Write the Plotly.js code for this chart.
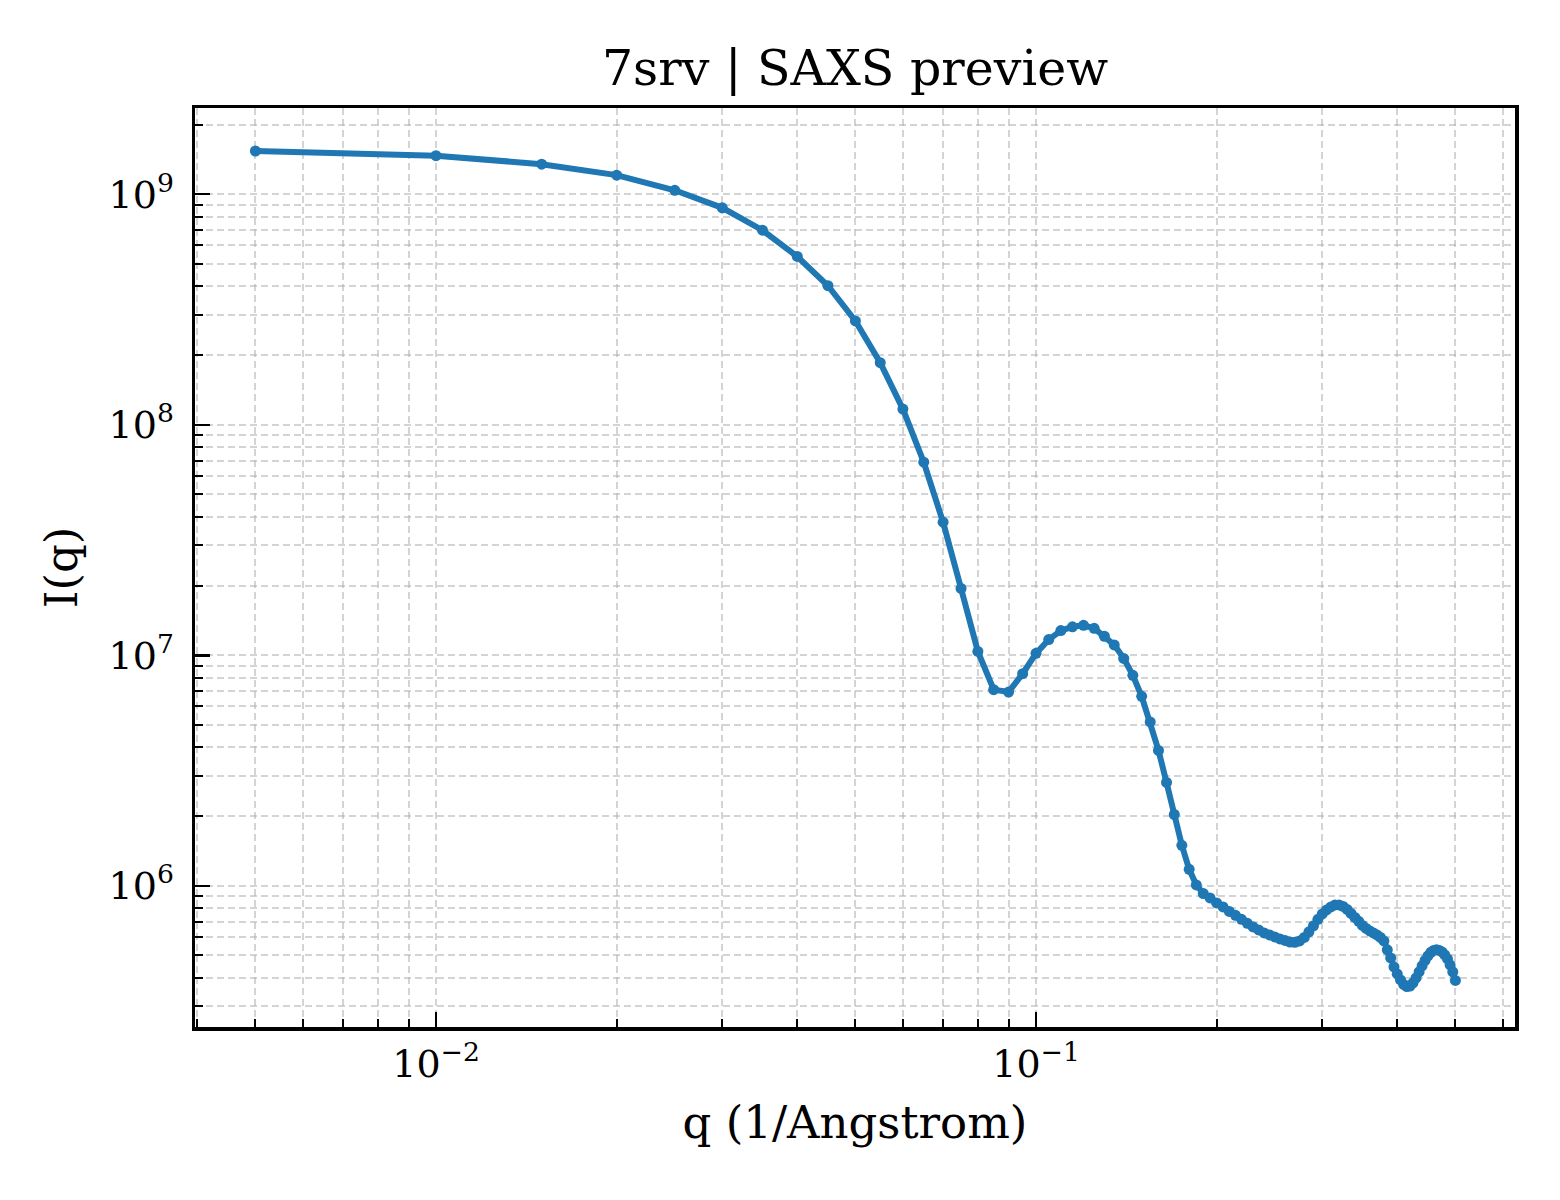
<!DOCTYPE html>
<html>
<head>
<meta charset="utf-8">
<script src="https://cdn.plot.ly/plotly-3.0.1.min.js"></script>
<style>
  html, body { margin: 0; padding: 0; background: #fff; }
  #chart { width: 1560px; height: 1200px; }
</style>
</head>
<body>
<div id="chart"></div>
<script>
const qValues = [
  0.005, 0.010, 0.015, 0.020, 0.025, 0.030, 0.035, 0.040, 0.045, 0.050,
  0.055, 0.060, 0.065, 0.070, 0.075, 0.080, 0.085, 0.090, 0.095, 0.100,
  0.105, 0.110, 0.115, 0.120, 0.125, 0.130, 0.135, 0.140, 0.145, 0.150,
  0.155, 0.160, 0.165, 0.170, 0.175, 0.180, 0.185, 0.190, 0.195, 0.200,
  0.205, 0.210, 0.215, 0.220, 0.225, 0.230, 0.235, 0.240, 0.245, 0.250,
  0.255, 0.260, 0.265, 0.270, 0.275, 0.280, 0.285, 0.290, 0.295, 0.300,
  0.305, 0.310, 0.315, 0.320, 0.325, 0.330, 0.335, 0.340, 0.345, 0.350,
  0.355, 0.360, 0.365, 0.370, 0.375, 0.380, 0.385, 0.390, 0.395, 0.400,
  0.405, 0.410, 0.415, 0.420, 0.425, 0.430, 0.435, 0.440, 0.445, 0.450,
  0.455, 0.460, 0.465, 0.470, 0.475, 0.480, 0.485, 0.490, 0.495, 0.500
];

const intensity = [
  1.54e9, 1.47e9, 1.35e9, 1.21e9, 1.04e9, 8.73e8, 6.98e8, 5.37e8, 4.01e8, 2.82e8,
  1.86e8, 1.17e8, 6.88e7, 3.78e7, 1.95e7, 1.04e7, 7.10e6, 6.93e6, 8.33e6, 1.02e7,
  1.17e7, 1.28e7, 1.33e7, 1.35e7, 1.31e7, 1.21e7, 1.11e7, 9.70e6, 8.19e6, 6.64e6,
  5.14e6, 3.87e6, 2.81e6, 2.04e6, 1.50e6, 1.18e6, 1.01e6, 9.27e5, 8.87e5, 8.44e5,
  8.11e5, 7.75e5, 7.45e5, 7.16e5, 6.88e5, 6.64e5, 6.44e5, 6.25e5, 6.13e5, 6.01e5,
  5.89e5, 5.80e5, 5.71e5, 5.69e5, 5.77e5, 5.98e5, 6.32e5, 6.71e5, 7.16e5, 7.56e5,
  7.87e5, 8.11e5, 8.27e5, 8.27e5, 8.15e5, 7.91e5, 7.60e5, 7.30e5, 7.02e5, 6.74e5,
  6.54e5, 6.38e5, 6.25e5, 6.13e5, 5.98e5, 5.77e5, 5.28e5, 4.87e5, 4.45e5, 4.15e5,
  3.91e5, 3.74e5, 3.66e5, 3.68e5, 3.80e5, 3.99e5, 4.24e5, 4.50e5, 4.75e5, 4.97e5,
  5.15e5, 5.25e5, 5.28e5, 5.25e5, 5.17e5, 5.02e5, 4.82e5, 4.54e5, 4.24e5, 3.89e5
];

const xTickVals = [0.01, 0.1];
const xTickText = ['10<sup>\u22122</sup>', '10<sup>\u22121</sup>'];
const yTickVals = [1e6, 1e7, 1e8, 1e9];
const yTickText = ['10<sup>6</sup>', '10<sup>7</sup>', '10<sup>8</sup>', '10<sup>9</sup>'];

// minor ticks at 2..9 of every decade
function minorTicks(fromExp, toExp) {
  const out = [];
  for (let e = fromExp; e <= toExp; e++) {
    for (let m = 2; m <= 9; m++) out.push(m * Math.pow(10, e));
  }
  return out;
}

const lineColor = '#1f77b4';
const gridColor = 'rgba(176,176,176,0.55)';
const fontFamily = '"DejaVu Serif", "Liberation Serif", serif';

const trace = {
  x: qValues, y: intensity,
  type: 'scatter', mode: 'lines+markers',
  line: { color: lineColor, width: 6 },
  marker: { color: lineColor, size: 11 },
  hoverinfo: 'skip'
};

const axisBase = {
  type: 'log',
  showline: true, linecolor: '#000', linewidth: 3.5, mirror: true,
  ticks: 'inside', ticklen: 15, tickwidth: 2.5, tickcolor: '#000',
  tickmode: 'array',
  showgrid: true, gridcolor: gridColor, gridwidth: 2, griddash: '7px,4px',
  zeroline: false,
  tickfont: { family: fontFamily, size: 38, color: '#000' }
};

const layout = {
  width: 1560, height: 1200,
  paper_bgcolor: '#fff', plot_bgcolor: '#fff',
  font: { family: fontFamily, color: '#000' },
  margin: { l: 195, r: 45, t: 108, b: 173 },
  showlegend: false,
  title: {
    text: '7srv | SAXS preview',
    font: { family: fontFamily, size: 49, color: '#000' },
    x: 0.5, xref: 'paper', xanchor: 'center',
    y: 1 - 68 / 1200, yref: 'container', yanchor: 'middle'
  },
  xaxis: {
    ...axisBase,
    range: [-2.4017, -0.2017],
    tickvals: xTickVals, ticktext: xTickText,
    ticklabelstandoff: 1,
    minor: {
      tickmode: 'array', tickvals: minorTicks(-3, -1),
      ticks: 'inside', ticklen: 8, tickwidth: 2, tickcolor: '#000',
      showgrid: true, gridcolor: gridColor, gridwidth: 2, griddash: '7px,4px'
    },
    title: { text: 'q (1/Angstrom)', font: { family: fontFamily, size: 45, color: '#000' }, standoff: 22 }
  },
  yaxis: {
    ...axisBase,
    range: [5.388, 9.374],
    tickvals: yTickVals, ticktext: yTickText,
    ticklabelstandoff: 10,
    minor: {
      tickmode: 'array', tickvals: minorTicks(5, 9),
      ticks: 'inside', ticklen: 8, tickwidth: 2, tickcolor: '#000',
      showgrid: true, gridcolor: gridColor, gridwidth: 2, griddash: '7px,4px'
    },
    title: { text: 'I(q)', font: { family: fontFamily, size: 45, color: '#000' }, standoff: 18 }
  }
};

Plotly.newPlot('chart', [trace], layout, { staticPlot: true, displayModeBar: false });
</script>
</body>
</html>
